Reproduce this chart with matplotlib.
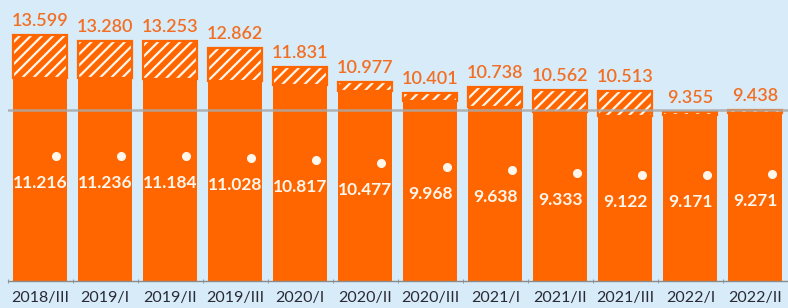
import numpy as np
import matplotlib
matplotlib.use("Agg")
import matplotlib.pyplot as plt

# data
periods = ['2018/III', '2019/I', '2019/II', '2019/III', '2020/I', '2020/II',
           '2020/III', '2021/I', '2021/II', '2021/III', '2022/I', '2022/II']
total = [13.599, 13.280, 13.253, 12.862, 11.831, 10.977,
         10.401, 10.738, 10.562, 10.513, 9.355, 9.438]
solid = [11.216, 11.236, 11.184, 11.028, 10.817, 10.477,
         9.968, 9.638, 9.333, 9.122, 9.171, 9.271]
ref_line = 9.45

orange = '#FF6600'
label_orange = '#F26E22'
bg = '#D7EBF9'

plt.rcParams['font.family'] = ['Lato', 'DejaVu Sans']
plt.rcParams['hatch.linewidth'] = 1.6

fig = plt.figure(figsize=(7.88, 3.08), dpi=100)
fig.patch.set_facecolor(bg)
ax = fig.add_axes([7.5 / 788, 27 / 308, 780.5 / 788, 281 / 308])
ax.set_facecolor(bg)

x = np.arange(len(periods))
w = 0.83
top = np.array(total) - np.array(solid)

ax.bar(x, solid, width=w, color=orange, linewidth=0, zorder=2)
ax.bar(x, top, bottom=solid, width=w, color=orange, edgecolor='#FFF6EC',
       hatch='///', linewidth=0, zorder=2)
ax.bar(x, top, bottom=solid, width=w, facecolor='none', edgecolor=orange,
       linewidth=1.6, zorder=3)

ax.axhline(ref_line, color='#A9A9A9', lw=1.8, alpha=0.85, zorder=4)

for xi, t in zip(x, total):
    ax.annotate(f'{t:.3f}', (xi, t), xytext=(0, 6.5), textcoords='offset points',
                ha='center', va='baseline', fontsize=13, color=label_orange,
                fontweight='semibold', annotation_clip=False)

ax.set_xlim(-0.5, 11.5)
ax.set_ylim(0, 15.53)

# dots live on their own compressed scale
ax2 = ax.twinx()
ax2.set_ylim(-2.57, 28.41)
ax2.plot(x + 0.25, solid, 'o', color='#FFF6EC', ms=5.5, zorder=5)
for xi, s in zip(x, solid):
    ax2.annotate(f'{s:.3f}', (xi, s), xytext=(0, -19.5), textcoords='offset points',
                 ha='center', va='center', fontsize=12.5, color='#FFF6EC',
                 fontweight='bold')
ax2.axis('off')

for side in ['top', 'right', 'left']:
    ax.spines[side].set_visible(False)
ax.spines['bottom'].set_color('#8C8C8C')
ax.spines['bottom'].set_linewidth(1)
ax.set_yticks([])
ax.set_xticks(x)
ax.set_xticklabels(periods, fontsize=11.5, color='#2A2A35')
ax.tick_params(axis='x', which='major', length=0, pad=7)
ax.set_xticks(np.arange(-0.5, 12, 1), minor=True)
ax.tick_params(axis='x', which='minor', length=3, color='#8C8C8C', direction='inout')

fig.savefig('out.png', dpi=100, facecolor=bg)
